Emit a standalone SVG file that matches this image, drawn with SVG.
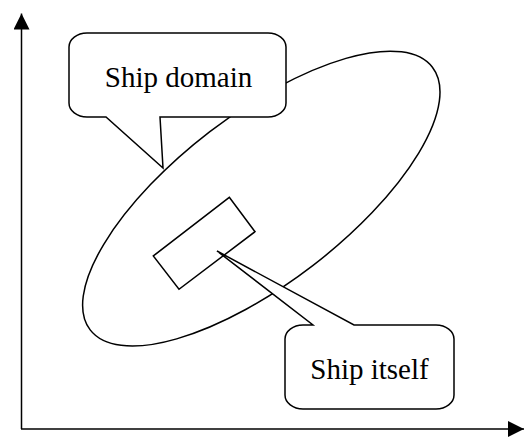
<svg xmlns="http://www.w3.org/2000/svg" width="525" height="437" viewBox="0 0 525 437">
<style>
  .ln { fill: none; stroke: #000; stroke-width: 1.5; }
  .shape { fill: #fff; stroke: #000; stroke-width: 1.5; stroke-linejoin: miter; }
  .lbl { font-family: "Liberation Serif", "Times New Roman", serif; font-size: 29px; fill: #000; text-anchor: middle; }
</style>
<defs>
  <marker id="arr" viewBox="0 0 16 16" refX="16" refY="8" markerWidth="16" markerHeight="16" markerUnits="userSpaceOnUse" orient="auto">
    <path d="M0,0 L16,8 L0,16 Z" fill="#000"/>
  </marker>
</defs>
<g id="connectors">
  <path class="ln" d="M21.5,429 V13.5" marker-end="url(#arr)"/>
  <path class="ln" d="M21,429 H524" marker-end="url(#arr)"/>
</g>
<g id="domain-ellipse">
  <ellipse class="shape" cx="261.3" cy="198.6" rx="215.7" ry="84.5" transform="rotate(-37.5 261.3 198.6)"/>
</g>
<g id="ship-rect">
  <polygon class="shape" points="229.3,197.3 255,231.7 179,289.3 153.3,256"/>
</g>
<g id="ship-domain-callout">
  <path class="shape" d="M87,33 H268 A18,14 0 0 1 286,47 V103 A18,14 0 0 1 268,117 H160 L163,168 L106,117 H87 A18,14 0 0 1 69,103 V47 A18,14 0 0 1 87,33 Z"/>
  <text class="lbl" x="178.5" y="87">Ship domain</text>
</g>
<g id="ship-itself-callout">
  <path class="shape" d="M303,325 H313 L217,251 L354,325 H436 A18,14 0 0 1 454,339 V395 A18,14 0 0 1 436,409 H303 A18,14 0 0 1 285,395 V339 A18,14 0 0 1 303,325 Z"/>
  <text class="lbl" x="369.5" y="379">Ship itself</text>
</g>
</svg>
